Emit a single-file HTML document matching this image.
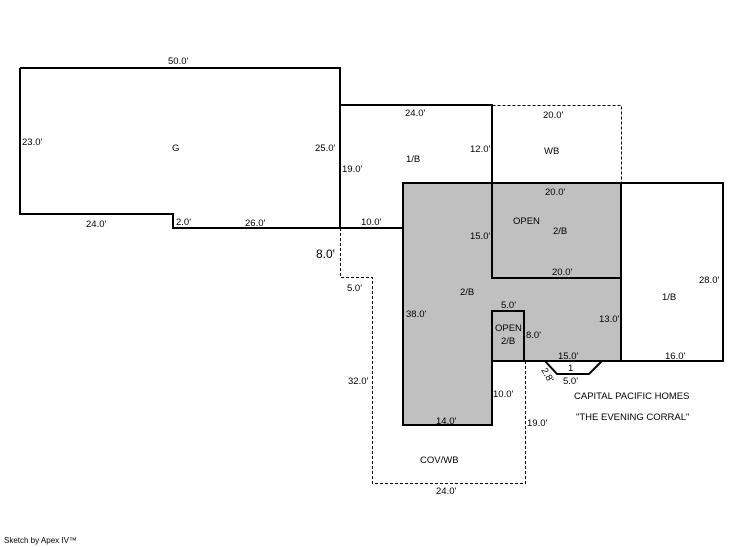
<!DOCTYPE html>
<html><head><meta charset="utf-8"><style>
html,body{margin:0;padding:0;background:#fff;}
svg{display:block;}
text{font-family:"Liberation Sans",sans-serif;font-size:9.5px;fill:#000;}
</style></head><body>
<svg width="746" height="547" viewBox="0 0 746 547" xmlns="http://www.w3.org/2000/svg">
<g fill="none" stroke="#000" stroke-width="1" stroke-dasharray="3,2" shape-rendering="crispEdges">
<polyline points="492.5,105.5 621.5,105.5 621.5,183"/>
<polyline points="340.5,228 340.5,277.5 372.5,277.5 372.5,483.5 525.5,483.5 525.5,361"/>
</g>
<polygon points="403,183 621,183 621,361 492,361 492,425 403,425" fill="#c0c0c0" stroke="#000" stroke-width="2"/>
<g fill="none" stroke="#000" stroke-width="2">
<polyline points="20,68 340,68 340,228 173,228 173,214 20,214 20,68"/>
<polyline points="340,105 492,105 492,278 621,278"/>
<line x1="340" y1="228" x2="403" y2="228"/>
<polyline points="492,361 492,311 524,311 524,361"/>
<polyline points="621,183 723,183 723,361 621,361"/>
<polyline points="545,361 557,374 589,374 602,361"/>
</g>
<text x="168" y="64">50.0'</text>
<text x="22" y="145">23.0'</text>
<text x="172" y="151">G</text>
<text x="315" y="151">25.0'</text>
<text x="86" y="227">24.0'</text>
<text x="176" y="225">2.0'</text>
<text x="245" y="226">26.0'</text>
<text x="405" y="116">24.0'</text>
<text x="470" y="152">12.0'</text>
<text x="342" y="172">19.0'</text>
<text x="406" y="162">1/B</text>
<text x="361" y="225">10.0'</text>
<text x="316" y="258" style="font-size:12px">8.0'</text>
<text x="347" y="291">5.0'</text>
<text x="348" y="384">32.0'</text>
<text x="543" y="118">20.0'</text>
<text x="544" y="154">WB</text>
<text x="545" y="195">20.0'</text>
<text x="513" y="224">OPEN</text>
<text x="553" y="234">2/B</text>
<text x="470" y="239">15.0'</text>
<text x="552" y="275">20.0'</text>
<text x="460" y="295">2/B</text>
<text x="406" y="317">38.0'</text>
<text x="501" y="308">5.0'</text>
<text x="495" y="331">OPEN</text>
<text x="501" y="344">2/B</text>
<text x="526" y="338">8.0'</text>
<text x="599" y="322">13.0'</text>
<text x="558" y="359">15.0'</text>
<text x="568" y="371">1</text>
<text x="563" y="384">5.0'</text>
<text x="541" y="370" transform="rotate(60 541 370)">2.8'</text>
<text x="699" y="283">28.0'</text>
<text x="662" y="300">1/B</text>
<text x="665" y="359">16.0'</text>
<text x="574" y="399">CAPITAL PACIFIC HOMES</text>
<text x="576" y="420">"THE EVENING CORRAL"</text>
<text x="493" y="397">10.0'</text>
<text x="527" y="426">19.0'</text>
<text x="436" y="424">14.0'</text>
<text x="420" y="463">COV/WB</text>
<text x="436" y="494">24.0'</text>
<text x="4" y="543" style="font-size:8px">Sketch by Apex IV™</text>
</svg>
</body></html>
